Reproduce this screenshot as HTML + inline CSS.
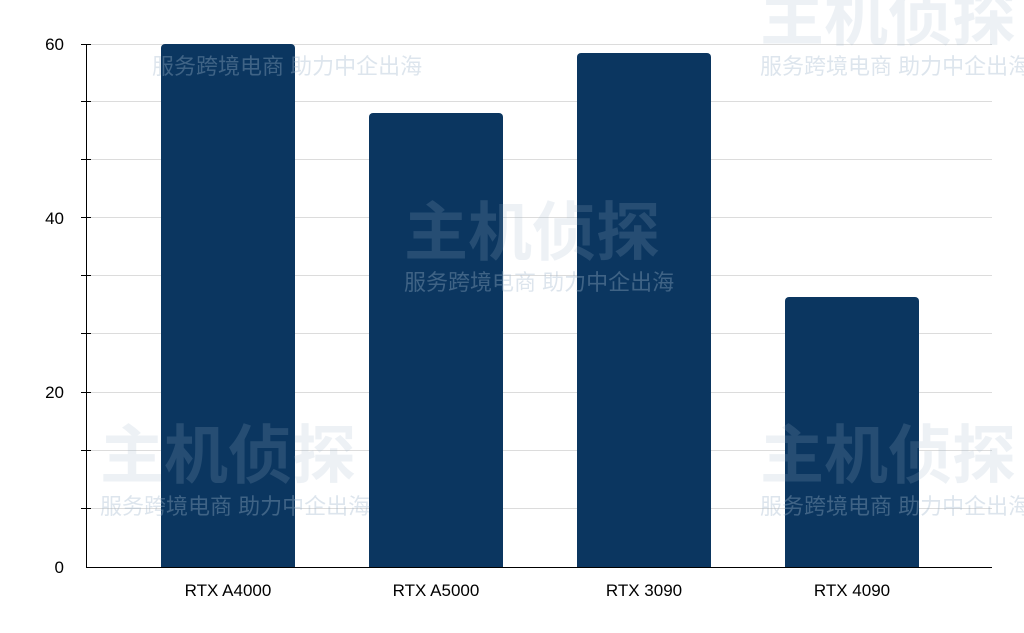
<!DOCTYPE html>
<html><head><meta charset="utf-8"><style>
body{margin:0;background:#fff;width:1024px;height:633px;overflow:hidden}
svg{display:block}
text{font-family:"Liberation Sans","Noto Sans CJK SC",sans-serif}
</style></head><body>
<svg width="1024" height="633" xmlns="http://www.w3.org/2000/svg">
<g stroke="#dcdcdc" stroke-width="1">
<line x1="86" x2="992" y1="44.5" y2="44.5"/>
<line x1="86" x2="992" y1="101.5" y2="101.5"/>
<line x1="86" x2="992" y1="159.5" y2="159.5"/>
<line x1="86" x2="992" y1="217.5" y2="217.5"/>
<line x1="86" x2="992" y1="275.5" y2="275.5"/>
<line x1="86" x2="992" y1="333.5" y2="333.5"/>
<line x1="86" x2="992" y1="392.5" y2="392.5"/>
<line x1="86" x2="992" y1="450.5" y2="450.5"/>
<line x1="86" x2="992" y1="508.5" y2="508.5"/>
</g>
<g fill="#0b3660">
<path d="M161,567V48a4,4 0 0 1 4,-4H291a4,4 0 0 1 4,4V567Z"/>
<path d="M369,567V117a4,4 0 0 1 4,-4H499a4,4 0 0 1 4,4V567Z"/>
<path d="M577,567V57a4,4 0 0 1 4,-4H707a4,4 0 0 1 4,4V567Z"/>
<path d="M785,567V301a4,4 0 0 1 4,-4H915a4,4 0 0 1 4,4V567Z"/>
</g>
<g stroke="#000" stroke-width="1">
<line x1="86.5" x2="86.5" y1="44" y2="567"/>
<line x1="86" x2="992" y1="567.5" y2="567.5"/>
<line x1="81" x2="91" y1="44.5" y2="44.5"/>
<line x1="81" x2="91" y1="101.5" y2="101.5"/>
<line x1="81" x2="91" y1="159.5" y2="159.5"/>
<line x1="81" x2="91" y1="217.5" y2="217.5"/>
<line x1="81" x2="91" y1="275.5" y2="275.5"/>
<line x1="81" x2="91" y1="333.5" y2="333.5"/>
<line x1="81" x2="91" y1="392.5" y2="392.5"/>
<line x1="81" x2="91" y1="450.5" y2="450.5"/>
<line x1="81" x2="91" y1="508.5" y2="508.5"/>
</g>
<g font-size="17" fill="#000" text-anchor="end">
<text x="64" y="50">60</text>
<text x="64" y="224">40</text>
<text x="64" y="398">20</text>
<text x="64" y="573">0</text>
</g>
<g font-size="17" fill="#000" text-anchor="middle">
<text x="228" y="596">RTX A4000</text>
<text x="436" y="596">RTX A5000</text>
<text x="644" y="596">RTX 3090</text>
<text x="852" y="596">RTX 4090</text>
</g>
<g fill="#9fb6cc" opacity="0.35" font-size="22">
<text x="152" y="74">服务跨境电商 助力中企出海</text>
<text x="760" y="74">服务跨境电商 助力中企出海</text>
<text x="404" y="290">服务跨境电商 助力中企出海</text>
<text x="100" y="514">服务跨境电商 助力中企出海</text>
<text x="760" y="514">服务跨境电商 助力中企出海</text>
</g>
<g fill="#9fb6cc" opacity="0.18" font-size="64" font-weight="bold">
<text x="404" y="255">主机侦探</text>
<text x="100" y="478">主机侦探</text>
<text x="760" y="478">主机侦探</text>
<text x="760" y="40">主机侦探</text>
</g>
</svg>
</body></html>
